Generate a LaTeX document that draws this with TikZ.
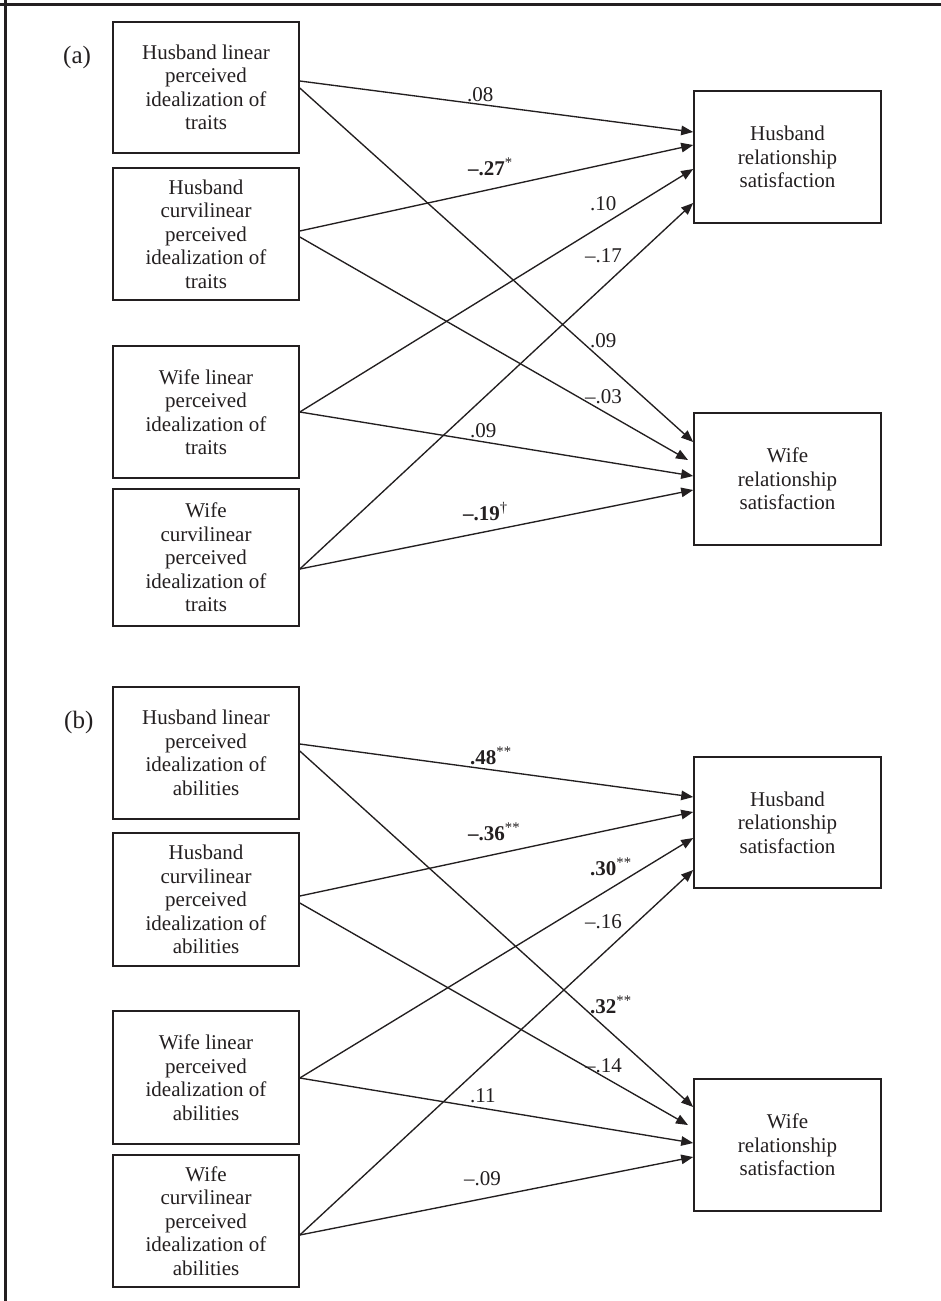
\documentclass[tikz,border=0pt]{standalone}
\usepackage{fontspec}
\setmainfont{Liberation Serif}
\usetikzlibrary{arrows.meta,calc}
\definecolor{ink}{HTML}{231F20}
\begin{document}
\begin{tikzpicture}[x=1pt,y=-1pt,
  box/.style={draw=ink, line width=1.6pt, minimum width=186pt, align=center, inner sep=0pt,
    font=\fontsize{21}{23.5}\selectfont, text=ink},
  rbox/.style={box, minimum width=187pt},
  conn/.style={draw=ink, line width=1.35pt, -{Triangle[length=12pt,width=9.5pt]}},
  coef/.style={anchor=base west, inner sep=0pt, font=\fontsize{21}{23}\selectfont, text=ink},
  panel/.style={anchor=base west, inner sep=0pt, font=\fontsize{25}{28}\selectfont, text=ink}]
\useasboundingbox (0,0) rectangle (941,1301);
\fill[white] (0,0) rectangle (941,1301);
% frame
\draw[ink, line width=2.4pt] (0,4.3) -- (941,4.3);
\draw[ink, line width=2.7pt] (5.3,0) -- (5.3,1301);

% ---------- panel (a)
\node[panel] (pa) at (63,63) {(a)};
\node[box, minimum height=131pt] (A1) at (206,87.5) {Husband linear\\perceived\\idealization of\\traits};
\node[box, minimum height=132pt] (A2) at (206,234) {Husband\\curvilinear\\perceived\\idealization of\\traits};
\node[box, minimum height=132pt] (A3) at (206,412) {Wife linear\\perceived\\idealization of\\traits};
\node[box, minimum height=137pt] (A4) at (206,557.5) {Wife\\curvilinear\\perceived\\idealization of\\traits};
\node[rbox, minimum height=132pt] (HA) at (787.5,157) {Husband\\relationship\\satisfaction};
\node[rbox, minimum height=132pt] (WA) at (787.5,479) {Wife\\relationship\\satisfaction};

\draw[conn] ([yshift=6.5pt]A1.east) -- ([yshift=25pt]HA.west);
\draw[conn] ([yshift=-0.5pt]A1.east) -- ([yshift=37pt]WA.west);
\draw[conn] ([yshift=3pt]A2.east) -- ([yshift=12pt]HA.west);
\draw[conn, shorten >=6pt] ([yshift=-3pt]A2.east) -- ([yshift=16pt]WA.west);
\draw[conn] (A3.east) -- ([yshift=-12pt]HA.west);
\draw[conn] (A3.east) -- ([yshift=3pt]WA.west);
\draw[conn] ([yshift=-11.5pt]A4.east) -- ([yshift=-46pt]HA.west);
\draw[conn] ([yshift=-11.5pt]A4.east) -- ([yshift=-11pt]WA.west);

\node[coef] (a08) at (467,101) {.08};
\node[coef] (a27) at (468,175) {\textbf{–.27}\textsuperscript{*}};
\node[coef] (a10) at (590,210) {.10};
\node[coef] (a17) at (585,262) {–.17};
\node[coef] (a09a) at (590,347) {.09};
\node[coef] (a03) at (585,403) {–.03};
\node[coef] (a09b) at (470,437) {.09};
\node[coef] (a19) at (463,520) {\textbf{–.19}\textsuperscript{†}};

% ---------- panel (b)
\node[panel] (pb) at (64,728) {(b)};
\node[box, minimum height=132pt] (B1) at (206,753) {Husband linear\\perceived\\idealization of\\abilities};
\node[box, minimum height=133pt] (B2) at (206,899.5) {Husband\\curvilinear\\perceived\\idealization of\\abilities};
\node[box, minimum height=133pt] (B3) at (206,1077.5) {Wife linear\\perceived\\idealization of\\abilities};
\node[box, minimum height=132pt] (B4) at (206,1221) {Wife\\curvilinear\\perceived\\idealization of\\abilities};
\node[rbox, minimum height=131pt] (HB) at (787.5,822.5) {Husband\\relationship\\satisfaction};
\node[rbox, minimum height=132pt] (WB) at (787.5,1145) {Wife\\relationship\\satisfaction};

\draw[conn] ([yshift=9pt]B1.east) -- ([yshift=25.5pt]HB.west);
\draw[conn] ([yshift=2pt]B1.east) -- ([yshift=38pt]WB.west);
\draw[conn] ([yshift=3.5pt]B2.east) -- ([yshift=10.5pt]HB.west);
\draw[conn, shorten >=6pt] ([yshift=-3.5pt]B2.east) -- ([yshift=17pt]WB.west);
\draw[conn] ([yshift=-0.5pt]B3.east) -- ([yshift=-15.5pt]HB.west);
\draw[conn] ([yshift=-0.5pt]B3.east) -- ([yshift=2pt]WB.west);
\draw[conn] ([yshift=-14pt]B4.east) -- ([yshift=-47.5pt]HB.west);
\draw[conn] ([yshift=-14pt]B4.east) -- ([yshift=-12pt]WB.west);

\node[coef] (b48) at (470,764) {\textbf{.48}\textsuperscript{**}};
\node[coef] (b36) at (468,840) {\textbf{–.36}\textsuperscript{**}};
\node[coef] (b30) at (590,875) {\textbf{.30}\textsuperscript{**}};
\node[coef] (b16) at (585,928) {–.16};
\node[coef] (b32) at (590,1013) {\textbf{.32}\textsuperscript{**}};
\node[coef] (b14) at (585,1072) {–.14};
\node[coef] (b11) at (470,1102) {.11};
\node[coef] (b09) at (464,1185) {–.09};
\end{tikzpicture}
\end{document}
